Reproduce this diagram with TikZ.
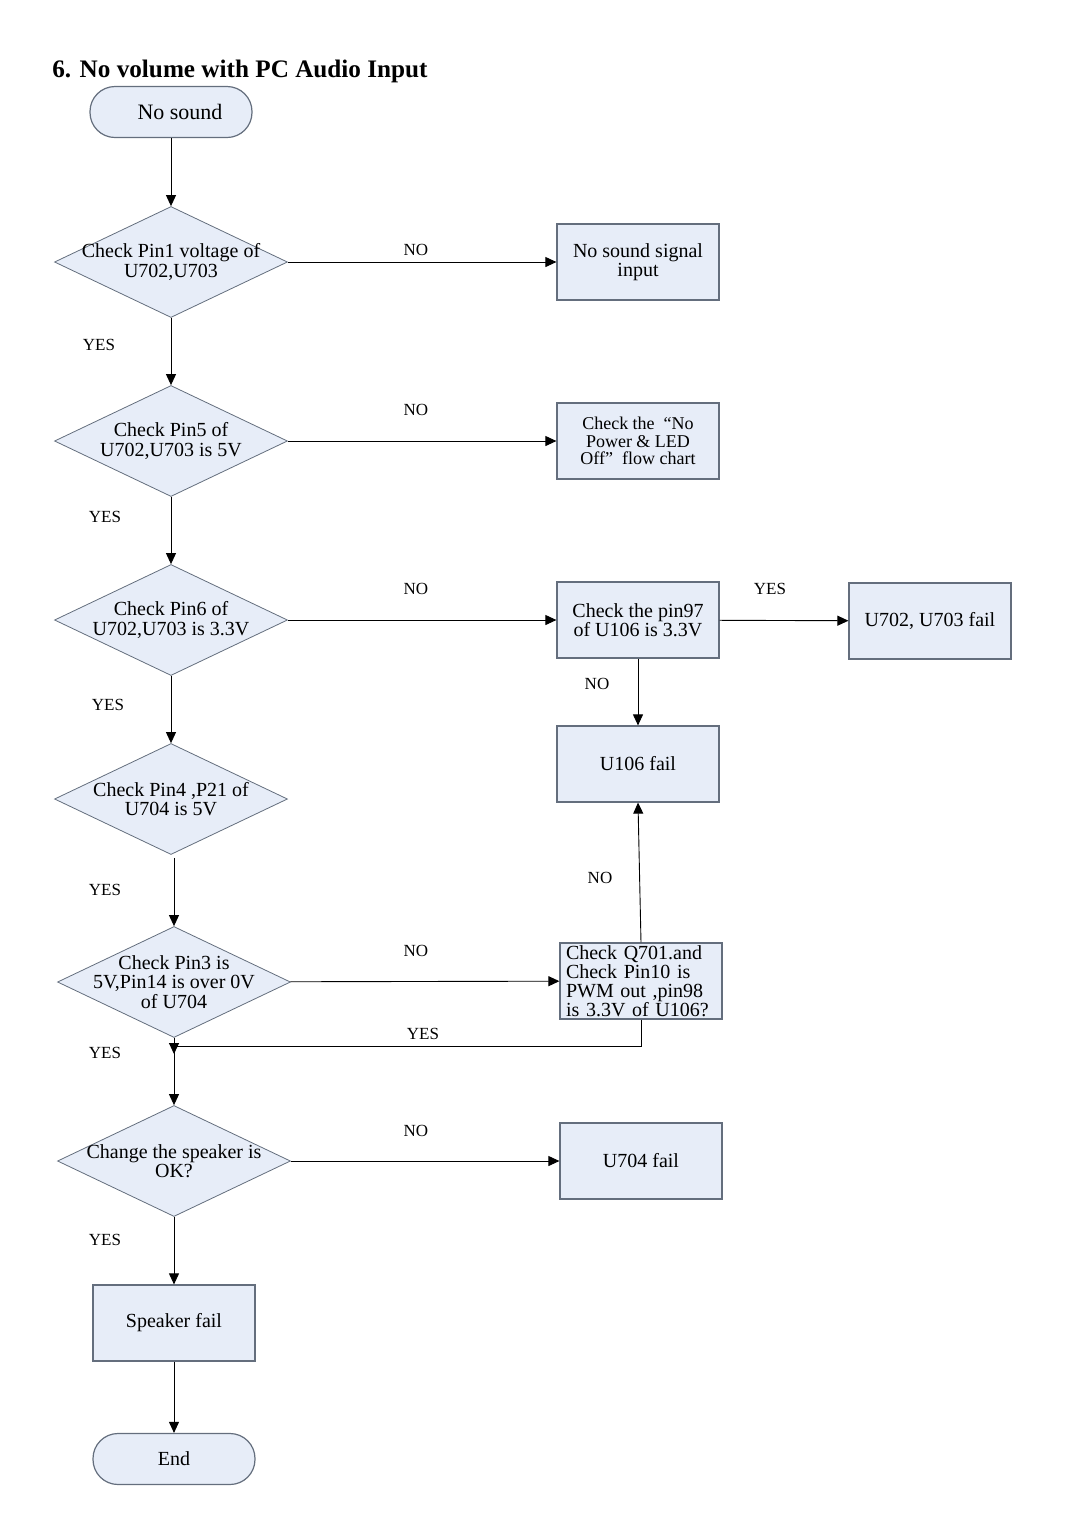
\documentclass[tikz,border=0pt]{standalone}
\usepackage{fontspec}
\setmainfont{Liberation Serif}
\usepackage{tikz}
\usetikzlibrary{shapes.geometric,arrows.meta,positioning}
\definecolor{boxfill}{RGB}{231,237,248}
\definecolor{boxline}{RGB}{100,110,125}
\tikzset{%
  terminal/.style={%
    draw=boxline, fill=boxfill, line width=0.6pt,
    rounded corners=12.5pt, minimum width=81pt, minimum height=25.5pt,
    inner sep=0pt, font=\fontsize{10}{10}\selectfont
  },
  process/.style={%
    draw=boxline, fill=boxfill, line width=0.6pt,
    minimum width=81pt, minimum height=38pt, inner sep=0pt,
    align=center, font=\fontsize{10}{9.6}\selectfont
  },
  decision/.style={%
    diamond, draw=boxline, fill=boxfill, line width=0.4pt,
    minimum width=116.5pt, minimum height=55.5pt, inner sep=0pt
  },
  dtext/.style={inner sep=0pt, align=center, font=\fontsize{10}{9.6}\selectfont},
  freccia/.style={-{Triangle[length=5.5pt,width=5pt]}, line width=0.45pt},
  lbl/.style={inner sep=0pt, font=\fontsize{8.5}{8.5}\selectfont}
}

\begin{document}
\begin{tikzpicture}[x=0.5pt,y=-0.5pt]
\useasboundingbox (0,0) rectangle (1080,1528);

\node[anchor=base west, inner sep=0pt, font=\bfseries\fontsize{12.6}{14}\selectfont] (title) at (52,77) {6. No volume with PC Audio Input};

% main column
\node[terminal, font=\fontsize{11}{11}\selectfont] (start) at (171,112) {\hspace{9pt}No sound};
\node[decision] (d1) at (171,262) {};
\node[dtext] (d1t) at (d1) {Check Pin1 voltage of\\U702,U703};
\node[decision] (d2) at (171,441) {};
\node[dtext] (d2t) at (d2) {Check Pin5 of\\U702,U703 is 5V};
\node[decision] (d3) at (171,620) {};
\node[dtext] (d3t) at (d3) {Check Pin6 of\\U702,U703 is 3.3V};
\node[decision] (d4) at (171,799) {};
\node[dtext] (d4t) at (d4) {Check Pin4 ,P21 of\\U704 is 5V};
\node[decision] (d5) at (174,982) {};
\node[dtext] (d5t) at (d5) {Check Pin3 is\\5V,Pin14 is over 0V\\of U704};
\node[decision] (d6) at (174,1161) {};
\node[dtext] (d6t) at (d6) {Change the speaker is\\OK?};
\node[process] (b8) at (174,1323) {Speaker fail};
\node[terminal] (end) at (174,1459) {End};

% right column
\node[process] (b1) at (638,262) {No sound signal\\input};
\node[process, font=\fontsize{9}{8.75}\selectfont] (b2) at (638,441) {Check the\ \ ``No\\Power \& LED\\Off''\ \ flow chart};
\node[process] (b3) at (638,620) {Check the pin97\\of U106 is 3.3V};
\node[process] (b4) at (930,621) {U702, U703 fail};
\node[process] (b5) at (638,764) {U106 fail};
\node[process, align=left, text width=75pt] (b6) at (641,981) {Check Q701.and\\Check Pin10 is\\PWM out ,pin98\\is 3.3V of U106?};
\node[process] (b7) at (641,1161) {U704 fail};

\coordinate (elbow) at (174,1046);
\coordinate (join) at (174,1054);

% connectors
\draw[freccia] (start) -- (d1);
\draw[freccia] (d1) -- (b1);
\draw[freccia] (d1) -- (d2);
\draw[freccia] (d2) -- (b2);
\draw[freccia] (d2) -- (d3);
\draw[freccia] (d3) -- (b3);
\draw[freccia] (b3) -- (b4);
\draw[freccia] (b3) -- (b5);
\draw[freccia] (d3) -- (d4);
\draw[freccia] ([yshift=-1.5pt]d4.south -| d5.north) -- (d5.north);
\draw[freccia] (d5) -- (b6);
\draw[freccia] (b6.north) -- (b5.south);
\draw[freccia] (b6.south) |- (elbow) -- (join);
\draw[freccia] (d5) -- (d6);
\draw[freccia] (d6) -- (b7);
\draw[freccia] (d6) -- (b8);
\draw[freccia] (b8) -- (end);

% labels
\node[lbl] (no1) at (416,250) {NO};
\node[lbl] (yes1) at (99,345) {YES};
\node[lbl] (no2) at (416,410) {NO};
\node[lbl] (yes2) at (105,517) {YES};
\node[lbl] (no3) at (416,589) {NO};
\node[lbl] (yes3) at (770,589) {YES};
\node[lbl] (no4) at (597,684) {NO};
\node[lbl] (yes4) at (108,705) {YES};
\node[lbl] (yes5) at (105,890) {YES};
\node[lbl] (no5) at (600,878) {NO};
\node[lbl] (no6) at (416,951) {NO};
\node[lbl] (yes6) at (423,1034) {YES};
\node[lbl] (yes7) at (105,1053) {YES};
\node[lbl] (no7) at (416,1131) {NO};
\node[lbl] (yes8) at (105,1240) {YES};
\end{tikzpicture}
\end{document}
